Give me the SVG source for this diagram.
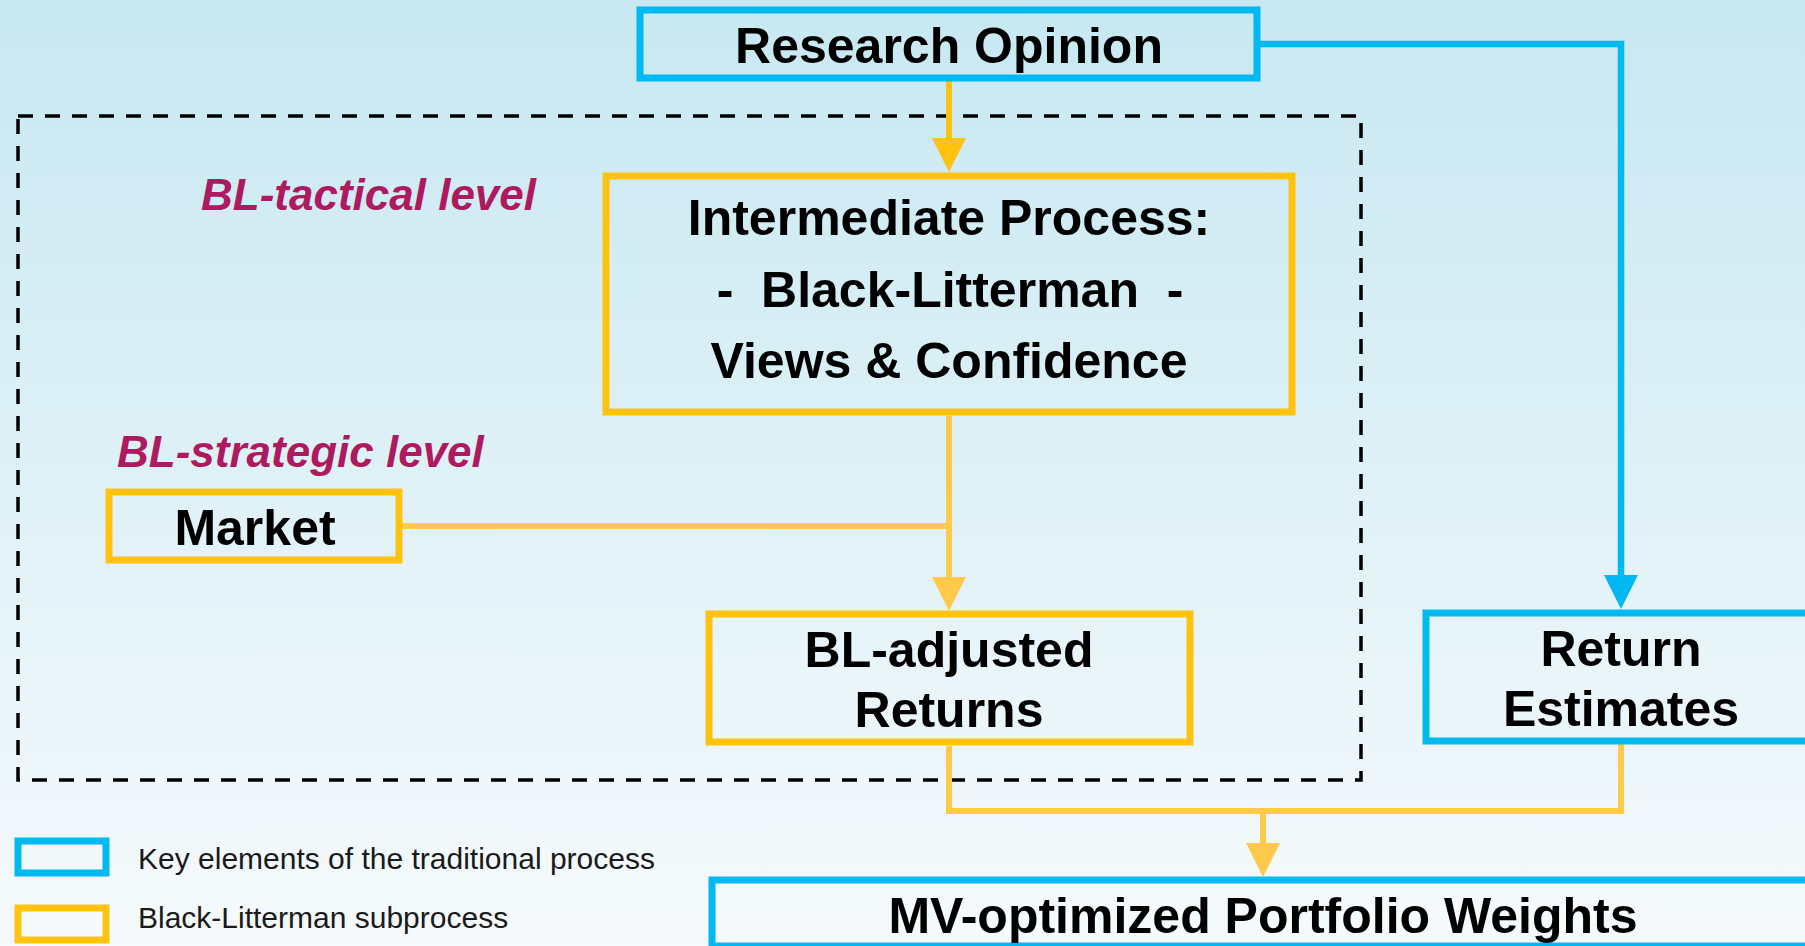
<svg xmlns="http://www.w3.org/2000/svg" width="1805" height="946" viewBox="0 0 1805 946">
<defs>
<linearGradient id="bg" x1="0" y1="0" x2="0" y2="1">
<stop offset="0" stop-color="#C7E8F2"/>
<stop offset="1" stop-color="#F6FAFC"/>
</linearGradient>
<marker id="arrDark" markerUnits="userSpaceOnUse" markerWidth="34" markerHeight="34" refX="0" refY="17" orient="auto" viewBox="0 0 34 34">
<path d="M0,0 L34,17 L0,34 z" fill="#FFC20E"/>
</marker>
<marker id="arrLight" markerUnits="userSpaceOnUse" markerWidth="34" markerHeight="34" refX="0" refY="17" orient="auto" viewBox="0 0 34 34">
<path d="M0,0 L34,17 L0,34 z" fill="#FFC94C"/>
</marker>
<marker id="arrBlue" markerUnits="userSpaceOnUse" markerWidth="34" markerHeight="34" refX="0" refY="17" orient="auto" viewBox="0 0 34 34">
<path d="M0,0 L34,17 L0,34 z" fill="#00B9F1"/>
</marker>
</defs>
<style>
.blue{fill:none;stroke:#00B9F1;stroke-width:7}
.orange{fill:none;stroke:#FFC20E;stroke-width:7}
.lblue{fill:none;stroke:#00B9F1;stroke-width:7}
.lorange{fill:none;stroke:#FFC20E;stroke-width:7}
.t{font-family:"Liberation Sans",Arial,sans-serif;font-weight:bold;font-size:50px;fill:#000;text-anchor:middle}
.lvl{font-family:"Liberation Sans",Arial,sans-serif;font-weight:bold;font-style:italic;font-size:44px;fill:#AE1A5F}
.leg{font-family:"Liberation Sans",Arial,sans-serif;font-size:30px;fill:#1a1a1a}
.cb{fill:none;stroke:#00B9F1;stroke-width:6.5}
.co{fill:none;stroke:#FFC94C;stroke-width:6}
.cod{fill:none;stroke:#FFC20E;stroke-width:6}
.dash{fill:none;stroke:#000;stroke-width:3.5;stroke-dasharray:15 12}
</style>
<rect x="0" y="0" width="1805" height="946" fill="url(#bg)"/>

<g id="bl-frame">
<rect class="dash" x="18" y="116" width="1343" height="664"/>
</g>

<g id="connectors">
<path class="cod" d="M949,81 V138" marker-end="url(#arrDark)"/>
<path class="co" d="M949,416 V577" marker-end="url(#arrLight)"/>
<path class="co" d="M402,526 H949"/>
<path class="cb" d="M1260,44 H1621 V575" marker-end="url(#arrBlue)"/>
<path class="co" d="M949,746 V811 H1621 V744"/>
<path class="co" d="M1263,811 V843" marker-end="url(#arrLight)"/>
</g>

<g id="research-opinion">
<rect class="blue" x="640" y="10" width="617" height="68"/>
<text class="t" x="949" y="63">Research Opinion</text>
</g>

<g id="intermediate-process">
<rect class="orange" x="606" y="176" width="686" height="236"/>
<text class="t" x="949" y="235">Intermediate Process:</text>
<text class="t" x="950" y="307" xml:space="preserve" style="white-space:pre">-  Black-Litterman  -</text>
<text class="t" x="949" y="378">Views &amp; Confidence</text>
</g>

<g id="label-tactical">
<text class="lvl" x="201" y="210">BL-tactical level</text>
</g>

<g id="label-strategic">
<text class="lvl" x="117" y="467">BL-strategic level</text>
</g>

<g id="market">
<rect class="orange" x="109" y="492" width="290" height="68"/>
<text class="t" x="255" y="545">Market</text>
</g>

<g id="bl-adjusted-returns">
<rect class="orange" x="709" y="614" width="481" height="128"/>
<text class="t" x="949" y="667">BL-adjusted</text>
<text class="t" x="949" y="727">Returns</text>
</g>

<g id="return-estimates">
<rect class="blue" x="1426" y="613" width="390" height="128"/>
<text class="t" x="1621" y="666">Return</text>
<text class="t" x="1621" y="726">Estimates</text>
</g>

<g id="mv-portfolio-weights">
<rect class="blue" x="712" y="880" width="1102" height="66"/>
<text class="t" x="1263" y="933">MV-optimized Portfolio Weights</text>
</g>

<g id="legend-traditional">
<rect class="lblue" x="18" y="841" width="88" height="32"/>
<text class="leg" x="138" y="869">Key elements of the traditional process</text>
</g>

<g id="legend-bl">
<rect class="lorange" x="18" y="908" width="88" height="32"/>
<text class="leg" x="138" y="928">Black-Litterman subprocess</text>
</g>
</svg>
